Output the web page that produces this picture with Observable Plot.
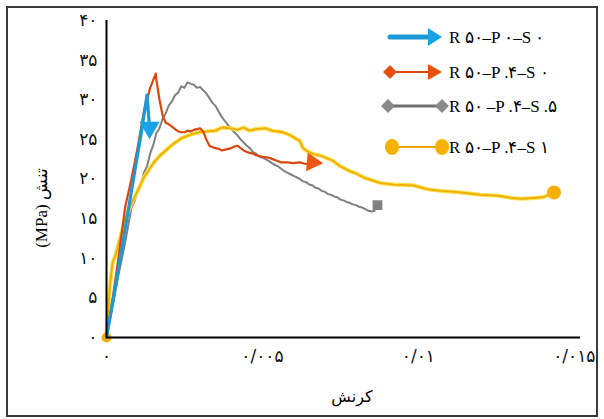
<!DOCTYPE html>
<html><head><meta charset="utf-8">
<script src="https://cdn.jsdelivr.net/npm/d3@7"></script>
<script src="https://cdn.jsdelivr.net/npm/@observablehq/plot@0.6"></script>
<style>
html,body{margin:0;padding:0;background:#fff;}
#wrap{position:relative;width:604px;height:419px;overflow:hidden;background:#fff;}
#frame{position:absolute;left:6px;top:6px;width:592px;height:411px;border:2px solid #3a3a3a;box-sizing:border-box;pointer-events:none;}
#over{position:absolute;left:0;top:0;pointer-events:none;}
</style></head><body><div id="wrap"><div id="frame"></div></div>
<script>
// ---- data ----
const seriesNames = ["R ۵۰–P ۰–S ۰", "R ۵۰–P .۴–S ۰", "R ۵۰ –P .۴–S .۵", "R ۵۰–P .۴–S ۱"];
const seriesColors = ["#1c9ad6", "#d9470f", "#808080", "#eeae08"];

const blueStrain = [0, 0.0004, 0.0008, 0.0011, 0.0013, 0.00138];
const blueStress = [0, 9, 18.5, 25.5, 30.6, 26.5];

const orangeStrain = [0, 0.0002, 0.0004, 0.0006, 0.0008, 0.001, 0.0012, 0.0014, 0.00158, 0.0016, 0.0017, 0.0018, 0.0019, 0.002, 0.0021, 0.0022, 0.0023, 0.0024, 0.0025, 0.0026, 0.0027, 0.0028, 0.0029, 0.003, 0.0031, 0.0032, 0.0033, 0.0034, 0.0035, 0.0036, 0.0037, 0.0038, 0.0039, 0.004, 0.0041, 0.0042, 0.0043, 0.0044, 0.0045, 0.0046, 0.0047, 0.0048, 0.0049, 0.005, 0.0052, 0.0054, 0.0056, 0.0058, 0.006, 0.0062, 0.0064, 0.0066];
const orangeStress = [0, 5, 10.5, 16.5, 20, 24, 28.5, 31.5, 33.3, 32.5, 30.0, 28.0, 27.1, 26.9, 26.6, 26.3, 26.0, 25.9, 25.9, 26.1, 26.0, 26.2, 26.3, 26.4, 26.0, 25.0, 24.2, 24.0, 23.9, 23.8, 23.6, 23.7, 23.8, 23.9, 24.1, 24.2, 23.9, 23.6, 23.4, 23.3, 23.2, 23.0, 22.9, 22.8, 22.7, 22.4, 22.1, 22.1, 22.0, 22.1, 21.9, 22.1];

const grayStrain = [0, 0.0002, 0.0004, 0.0006, 0.0008, 0.0009, 0.001, 0.0011, 0.0012, 0.0013, 0.0014, 0.0015, 0.0016, 0.0017, 0.0018, 0.0019, 0.002, 0.0021, 0.0022, 0.0023, 0.0024, 0.0025, 0.0026, 0.0027, 0.0028, 0.0029, 0.003, 0.0031, 0.0032, 0.0033, 0.0034, 0.0035, 0.0036, 0.0037, 0.0038, 0.0039, 0.004, 0.0041, 0.0042, 0.0043, 0.0044, 0.0045, 0.0046, 0.0047, 0.0048, 0.0049, 0.005, 0.0051, 0.0052, 0.0053, 0.0054, 0.0055, 0.0056, 0.0057, 0.0058, 0.0059, 0.006, 0.0061, 0.0062, 0.0063, 0.0064, 0.0065, 0.0066, 0.0067, 0.0068, 0.0069, 0.007, 0.0071, 0.0072, 0.0073, 0.0074, 0.0075, 0.0076, 0.0077, 0.0078, 0.0079, 0.008, 0.0081, 0.0082, 0.0083, 0.0084, 0.0085, 0.0086];
const grayStress = [0, 4, 8.2, 12, 16.4, 17.2, 18.5, 19.3, 20.8, 21.6, 23.2, 24.3, 25.8, 26.4, 27.6, 28.3, 29.3, 29.8, 30.6, 30.9, 31.7, 31.5, 32.2, 32.0, 31.9, 31.5, 31.6, 31.2, 30.8, 30.2, 29.6, 29.2, 28.5, 27.8, 27.3, 26.8, 26.3, 25.9, 25.5, 25.0, 24.6, 24.2, 23.9, 23.4, 23.2, 22.8, 22.7, 22.5, 22.3, 22.0, 21.8, 21.6, 21.3, 21.0, 20.8, 20.6, 20.4, 20.2, 20.0, 19.7, 19.6, 19.3, 19.2, 18.9, 18.8, 18.5, 18.4, 18.1, 18.0, 17.8, 17.7, 17.4, 17.3, 17.1, 17.0, 16.8, 16.7, 16.5, 16.4, 16.2, 16.0, 15.9, 16.0];
const grayEnd = [{strain: 0.00869, stress: 16.7}];

const yellowStrain = [0, 0.00005, 0.0001, 0.00015, 0.0002, 0.0003, 0.0004, 0.0006, 0.0008, 0.001, 0.0012, 0.00135, 0.0015, 0.0017, 0.0019, 0.0021, 0.00242, 0.0027, 0.00297, 0.0032, 0.0035, 0.0037, 0.004, 0.0042, 0.0044, 0.00458, 0.0048, 0.0051, 0.0053, 0.00565, 0.0059, 0.0062, 0.0063, 0.0064, 0.0066, 0.0069, 0.00726, 0.0075, 0.0078, 0.008, 0.0083, 0.00877, 0.0092, 0.00984, 0.0103, 0.0107, 0.0111, 0.01158, 0.012, 0.01255, 0.013, 0.0133, 0.0137, 0.014, 0.01435];
const yellowStress = [0, 3, 6, 8, 9.5, 10.5, 12, 15, 16.9, 18.5, 20.2, 21.1, 22, 22.9, 23.6, 24.3, 25.2, 25.6, 25.9, 26.0, 26.1, 26.5, 26.4, 26.2, 26.5, 26.1, 26.3, 26.4, 26.1, 25.9, 25.5, 24.8, 23.9, 23.6, 23.2, 22.9, 22.3, 21.6, 21.0, 20.7, 20.1, 19.5, 19.3, 19.2, 18.7, 18.5, 18.4, 18.2, 18.0, 17.9, 17.6, 17.5, 17.6, 17.7, 18.3];

const xTicks = [0, 0.005, 0.01, 0.015];
const xTickLabels = ["۰", "۰/۰۰۵", "۰/۰۱", "۰/۰۱۵"];
const yTicks = [0, 5, 10, 15, 20, 25, 30, 35, 40];
const yTickLabels = ["۰", "۵", "۱۰", "۱۵", "۲۰", "۲۵", "۳۰", "۳۵", "۴۰"];
const xTitle = "کرنش";
const yTitle = "(MPa) تنش";

// ---- build ----
const zip = (xs, ys) => xs.map((x, i) => ({strain: x, stress: ys[i]}));
const blue = zip(blueStrain, blueStress);
const orange = zip(orangeStrain, orangeStress);
const gray = zip(grayStrain, grayStress);
const yellow = zip(yellowStrain, yellowStress);
const last = a => [a[a.length - 1]];

const chart = Plot.plot({
  width: 604, height: 419,
  marginLeft: 106, marginRight: 24, marginTop: 20, marginBottom: 82,
  style: {fontFamily: "DejaVu Sans, sans-serif", background: "transparent"},
  x: {domain: [0, 0.0152]},
  y: {domain: [0, 40]},
  marks: [
    Plot.axisX({ticks: xTicks, tickFormat: d => xTickLabels[xTicks.indexOf(d)], tickSize: 0, tickPadding: 12, label: null, fontSize: 17, fill: "#111"}),
    Plot.axisY({ticks: yTicks, tickFormat: d => yTickLabels[yTicks.indexOf(d)], tickSize: 0, tickPadding: 9, label: null, fontSize: 17, fill: "#111"}),
    Plot.line(gray, {x: "strain", y: "stress", stroke: seriesColors[2], strokeWidth: 2}),
    Plot.dot(grayEnd, {x: "strain", y: "stress", symbol: "square", r: 5.5, fill: seriesColors[2]}),
    Plot.line(yellow, {x: "strain", y: "stress", stroke: "#fbe04a", strokeWidth: 4}),
    Plot.line(yellow, {x: "strain", y: "stress", stroke: seriesColors[3], strokeWidth: 1.8}),
    Plot.dot(last(yellow), {x: "strain", y: "stress", r: 7, fill: "#f5b000"}),
    Plot.dot([yellow[0]], {x: "strain", y: "stress", r: 5, fill: "#f5b000"}),
    Plot.line(orange, {x: "strain", y: "stress", stroke: seriesColors[1], strokeWidth: 2.2}),
    Plot.dot(last(orange), {x: "strain", y: "stress", symbol: "triangle", r: 7, fill: "#ee5510", rotate: 95}),
    Plot.line(blue, {x: "strain", y: "stress", stroke: seriesColors[0], strokeWidth: 3.2}),
    Plot.dot(last(blue), {x: "strain", y: "stress", symbol: "triangle", r: 7.5, fill: "#16a3e8", rotate: 180}),
    Plot.ruleY([0], {stroke: "#000", strokeWidth: 2}),
    Plot.ruleX([0], {stroke: "#000", strokeWidth: 2})
  ]
});
const wrap = document.getElementById("wrap");
wrap.insertBefore(chart, wrap.firstChild);

// ---- overlay: titles + legend ----
const svg = d3.select(wrap).append("svg").attr("id", "over").attr("width", 604).attr("height", 419);
svg.append("text").attr("x", 352).attr("y", 402).attr("text-anchor", "middle")
  .attr("font-family", "DejaVu Sans, sans-serif").attr("font-size", 16).text(xTitle);
svg.append("text").attr("transform", "translate(47,208) rotate(-90)").attr("text-anchor", "middle")
  .attr("font-family", "Liberation Serif, DejaVu Serif, serif").attr("font-size", 17).attr("direction", "ltr").text(yTitle);

const legY = [37, 72, 106, 147];
const lx0 = 390, lx1 = 442;
const g = svg.append("g");
// blue arrow
g.append("line").attr("x1", lx0).attr("x2", lx1 - 12).attr("y1", legY[0]).attr("y2", legY[0]).attr("stroke", "#1c9ad6").attr("stroke-width", 5).attr("stroke-linecap", "round");
g.append("path").attr("d", `M${lx1 - 14},${legY[0] - 9}L${lx1},${legY[0]}L${lx1 - 14},${legY[0] + 9}Z`).attr("fill", "#16a3e8");
// orange
g.append("line").attr("x1", lx0 - 2).attr("x2", lx1 - 12).attr("y1", legY[1]).attr("y2", legY[1]).attr("stroke", "#d9470f").attr("stroke-width", 2);
g.append("path").attr("d", `M${lx0 - 7},${legY[1]}L${lx0},${legY[1] - 7}L${lx0 + 7},${legY[1]}L${lx0},${legY[1] + 7}Z`).attr("fill", "#e8500f");
g.append("path").attr("d", `M${lx1 - 14},${legY[1] - 8}L${lx1},${legY[1]}L${lx1 - 14},${legY[1] + 8}Z`).attr("fill", "#e8500f");
// gray
g.append("line").attr("x1", lx0 - 2).attr("x2", lx1).attr("y1", legY[2]).attr("y2", legY[2]).attr("stroke", "#707070").attr("stroke-width", 3);
for (const cx of [lx0 - 2, lx1]) g.append("path").attr("d", `M${cx - 7},${legY[2]}L${cx},${legY[2] - 7}L${cx + 7},${legY[2]}L${cx},${legY[2] + 7}Z`).attr("fill", "#8a8a8a");
// yellow
g.append("line").attr("x1", lx0 + 2).attr("x2", lx1).attr("y1", legY[3]).attr("y2", legY[3]).attr("stroke", "#f0a400").attr("stroke-width", 2);
for (const cx of [lx0 + 2, lx1]) g.append("ellipse").attr("cx", cx).attr("cy", legY[3]).attr("rx", 7).attr("ry", 8).attr("fill", "#f5b300");
// labels
seriesNames.forEach((s, i) => {
  g.append("text").attr("x", 449).attr("y", legY[i] + 6).attr("font-family", "Liberation Serif, DejaVu Serif, serif")
    .attr("font-size", 17).attr("direction", "ltr").text(s);
});
</script></body></html>
